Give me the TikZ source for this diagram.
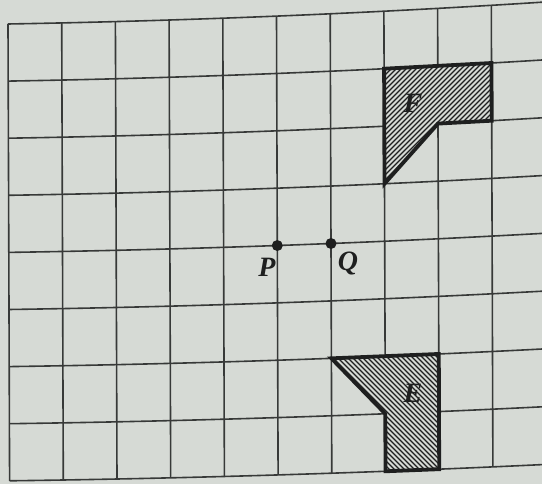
\documentclass[tikz,border=0pt]{standalone}
\usepackage{fontspec}
\setmainfont{Liberation Serif}
\definecolor{paper}{RGB}{214,218,213}
\definecolor{gridcol}{RGB}{55,57,56}
\definecolor{inkcol}{RGB}{30,31,31}
\begin{document}
\begin{tikzpicture}[x=1pt,y=-1pt,
  declare function={gx(\u,\v)=8+53.7*\u+0.2*\v; gy(\u,\v)=24+57.1*\v+(-0.95+0.03*\v)*\u+(-0.125+0.004*\v)*\u*\u;},
  gridline/.style={draw=gridcol, line width=1.6pt},
  shapeedge/.style={draw=inkcol, line width=3.8pt, line join=miter},
  hatchline/.style={draw=inkcol, line width=1.4pt},
  lab/.style={font=\fontsize{28}{28}\selectfont\bfseries\itshape, text=inkcol, inner sep=0pt},
  ptdot/.style={circle, fill=inkcol, minimum size=11pt, inner sep=0pt}]
\useasboundingbox (0,0) rectangle (542,484);
\fill[paper] (0,0) rectangle (542,484);
\clip (0,0) rectangle (542,484);
% grid points
\foreach \i in {0,...,9}{
  \foreach \j in {0,...,8}{
    \path ({gx(\i,\j)},{gy(\i,\j)}) coordinate (g\i-\j);
  }
}
% horizontal grid lines
\foreach \j in {0,...,8}{
  \draw[gridline] plot[domain=0:10.1, samples=24, smooth, variable=\t] ({gx(\t,\j)},{gy(\t,\j)});
}
% vertical grid lines
\foreach \i in {0,...,9}{
  \draw[gridline] (g\i-0) -- (g\i-8);
}
% shape F
\fill[paper] (g7-1) -- (g9-1) -- (g9-2) -- (g8-2) -- (g7-3) -- cycle;
\begin{scope}
  \clip (g7-1) -- (g9-1) -- (g9-2) -- (g8-2) -- (g7-3) -- cycle;
  \foreach \k in {0,...,60}{
    \draw[hatchline] ({230+5*\k},200) -- ++(160,-160);
  }
\end{scope}
\draw[shapeedge] (g7-1) -- (g9-1) -- (g9-2) -- (g8-2) -- (g7-3) -- cycle;
% shape E
\fill[paper] (g6-6) -- (g8-6) -- (g8-8) -- (g7-8) -- (g7-7) -- cycle;
\begin{scope}
  \clip (g6-6) -- (g8-6) -- (g8-8) -- (g7-8) -- (g7-7) -- cycle;
  \foreach \k in {0,...,60}{
    \draw[hatchline] ({170+5*\k},335) -- ++(160,160);
  }
\end{scope}
\draw[shapeedge] (g6-6) -- (g8-6) -- (g8-8) -- (g7-8) -- (g7-7) -- cycle;
% labels
\node[lab] (labF) at (413,103) {F};
\node[lab] (labE) at (413,393) {E};
% points
\node[ptdot] (P) at (g5-4) {};
\node[ptdot] (Q) at (g6-4) {};
\node[lab] (labP) at (267,267) {P};
\node[lab] (labQ) at (348,264) {Q};
\end{tikzpicture}
\end{document}
